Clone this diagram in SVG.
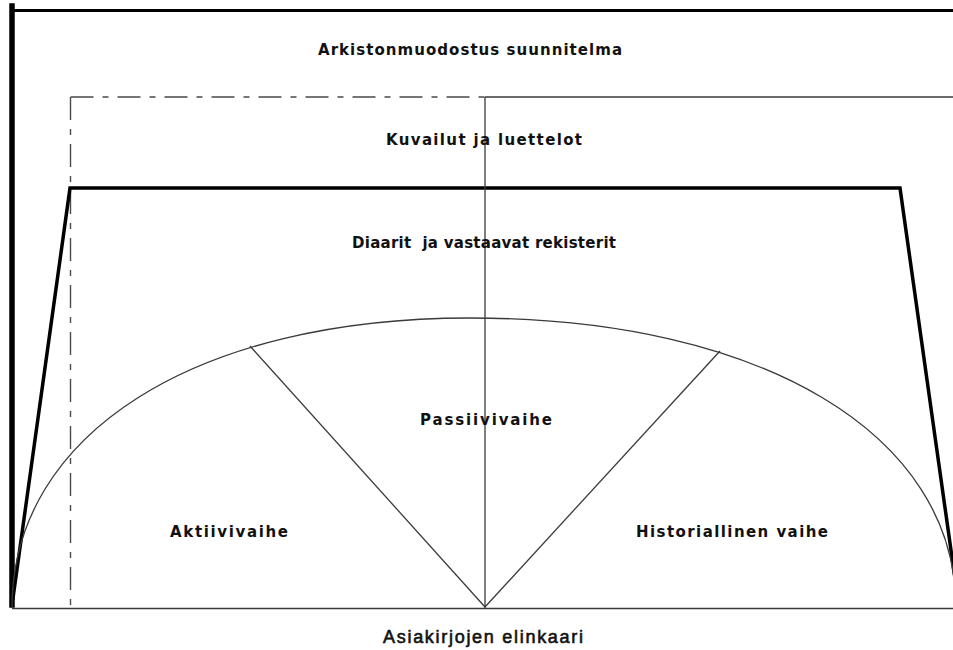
<svg xmlns="http://www.w3.org/2000/svg" width="953" height="650" viewBox="0 0 953 650">
<style>
.thick{stroke:#000;fill:none;stroke-linecap:square;stroke-linejoin:miter}
.thin{stroke:#3a3a3a;stroke-width:1.3;fill:none}
.dd{stroke:#4a4a4a;stroke-width:1.4;fill:none;stroke-dasharray:23 9 6 9}
.lbl{font-family:"DejaVu Sans","Liberation Sans",Arial,sans-serif;font-weight:bold;font-size:15px;fill:#111}
.cap{font-family:"Liberation Sans",Arial,sans-serif;font-weight:normal;font-size:18px;fill:#111;stroke:#111;stroke-width:0.6}
</style>
<rect width="953" height="650" fill="#fff"/>
<g id="frame">
<line class="thick" x1="12" y1="6" x2="12" y2="605" stroke-width="5.5"/>
<line class="thick" x1="12" y1="10.5" x2="955" y2="10.5" stroke-width="3"/>
</g>
<g id="plan-box">
<line class="dd" x1="70.5" y1="97" x2="485" y2="97"/>
<line class="thin" x1="485" y1="97" x2="955" y2="97" stroke="#555"/>
<line class="dd" x1="70.5" y1="97" x2="70.5" y2="608"/>
</g>
<g id="diary-trapezoid">
<polyline class="thick" points="13,598 70,188 900,188 958,600" stroke-width="3.5" stroke-linecap="butt"/>
</g>
<g id="lifecycle-arc">
<path class="thin" d="M 12 608 C 12 434 195 318 470 318 C 762 318 956 434 956 608"/>
</g>
<g id="connectors">
<line class="thin" x1="485" y1="97" x2="485" y2="608"/>
<line class="thin" x1="485" y1="607" x2="250" y2="346"/>
<line class="thin" x1="485" y1="607" x2="720" y2="351"/>
<line class="thin" x1="12" y1="608.5" x2="955" y2="608.5" stroke="#222" stroke-width="1.6"/>
</g>
<g id="labels">
<text class="lbl" x="318" y="55" textLength="304" lengthAdjust="spacing">Arkistonmuodostus suunnitelma</text>
<text class="lbl" x="386" y="145" textLength="196" lengthAdjust="spacing">Kuvailut ja luettelot</text>
<text class="lbl" x="352" y="248" textLength="264" lengthAdjust="spacing" xml:space="preserve">Diaarit  ja vastaavat rekisterit</text>
<text class="lbl" x="420" y="425" textLength="132" lengthAdjust="spacing">Passiivivaihe</text>
<text class="lbl" x="170" y="537" textLength="118" lengthAdjust="spacing">Aktiivivaihe</text>
<text class="lbl" x="636" y="537" textLength="192" lengthAdjust="spacing">Historiallinen vaihe</text>
<text class="cap" x="383" y="643" textLength="200" lengthAdjust="spacing">Asiakirjojen elinkaari</text>
</g>
</svg>
